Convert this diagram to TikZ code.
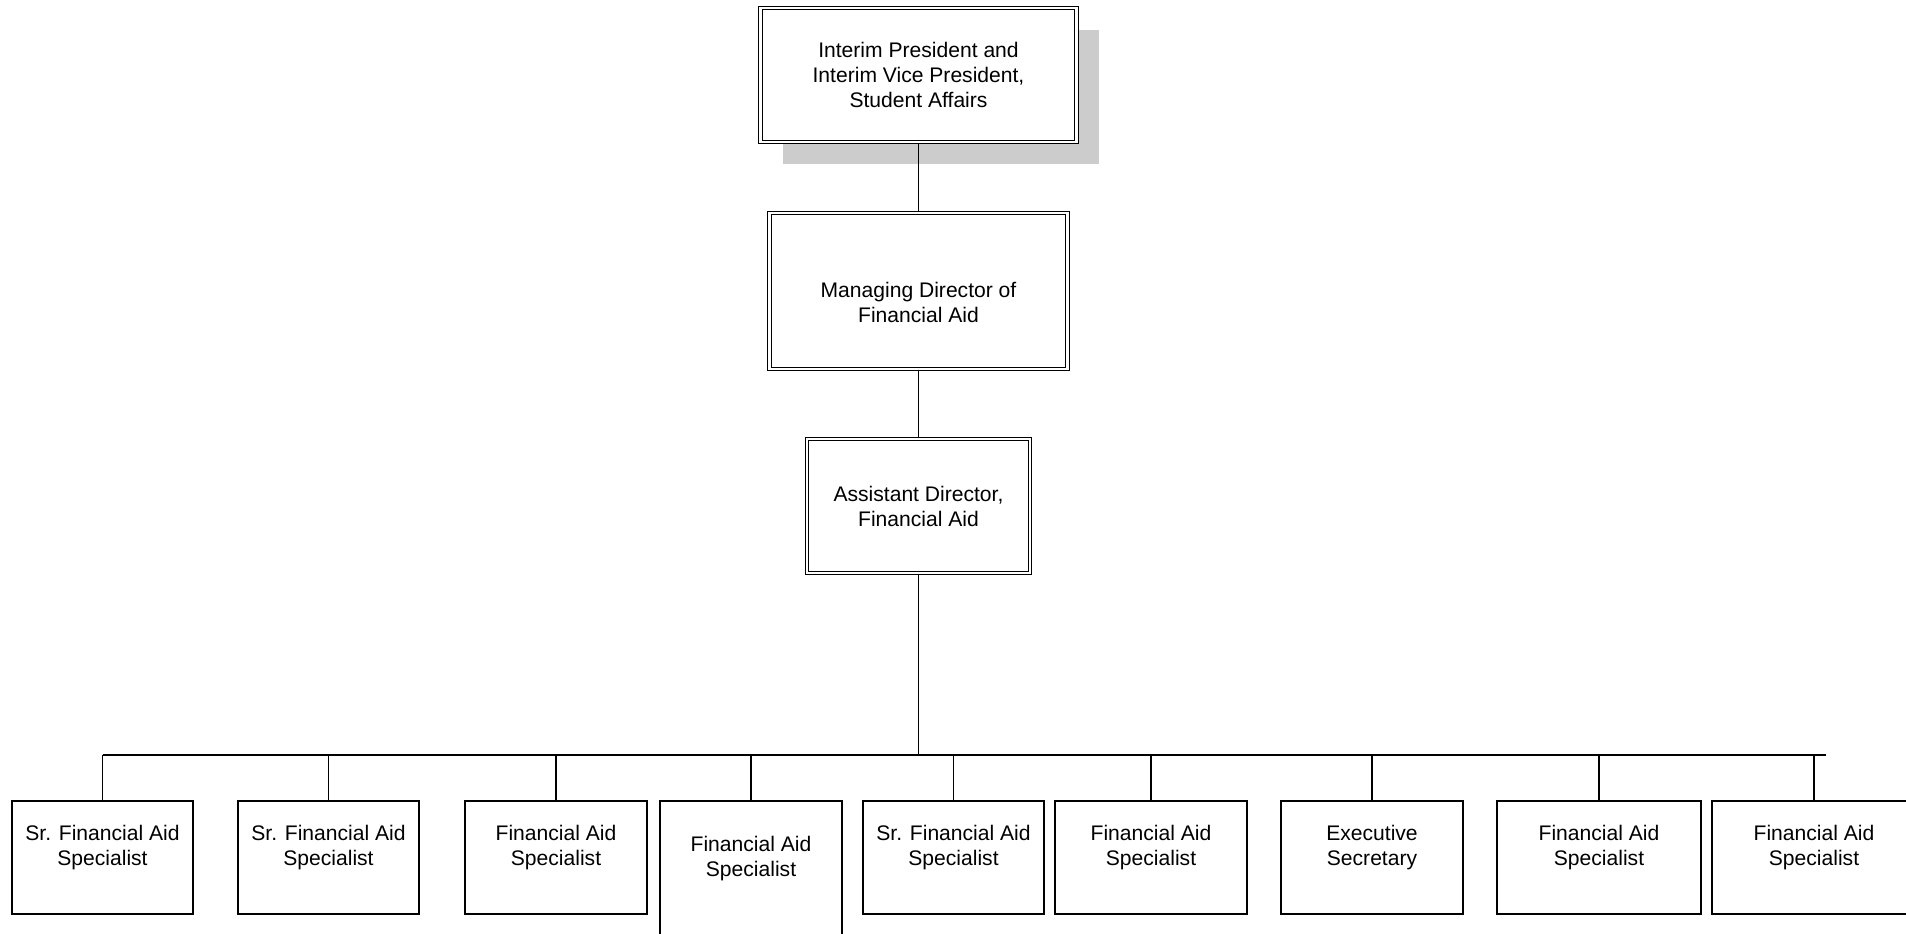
\documentclass[tikz,border=0pt]{standalone}
\usepackage{fontspec}
\setmainfont{Liberation Sans}
\usetikzlibrary{shadows}
\definecolor{shadowgray}{RGB}{204,204,204}

\tikzset{
  boxfont/.style={font=\fontsize{12}{14.2}\selectfont},
  dbox/.style={boxfont, draw, double, double distance=1.5pt, line width=0.6pt, fill=white, align=center},
  sbox/.style={boxfont, draw, line width=0.7pt, fill=white, align=center, minimum height=2.26cm, text depth=0.47cm},
  link/.style={line width=0.6pt}
}

\begin{document}
\begin{tikzpicture}
     \clip (0,0) rectangle (38.12,18.68);
     % upper chain
     \node[dbox, minimum width=6.32cm, minimum height=2.68cm,
           drop shadow={shadow xshift=0.44cm, shadow yshift=-0.44cm, fill=shadowgray, opacity=1}]
           (pres) at (18.37,17.18) {Interim President and\\Interim Vice President,\\Student Affairs};
     \node[dbox, minimum width=5.96cm, minimum height=3.12cm, text height=1.26cm] (mgr) at (18.37,12.86) {Managing Director of\\Financial Aid};
     \node[dbox, minimum width=4.46cm, minimum height=2.68cm] (asst) at (18.37,8.56) {Assistant Director,\\Financial Aid};
     \draw[link] (pres.south) -- (mgr.north);
     \draw[link] (mgr.south) -- (asst.north);
     % staff row
     \node[sbox, minimum width=3.62cm] (s1) at (2.05,1.53) {Sr. Financial Aid\\Specialist};
     \node[sbox, minimum width=3.62cm] (s2) at (6.57,1.53) {Sr. Financial Aid\\Specialist};
     \node[sbox, minimum width=3.64cm] (s3) at (11.12,1.53) {Financial Aid\\Specialist};
     \node[sbox, minimum width=3.64cm, minimum height=2.70cm] (s4) at (15.02,1.31) {Financial Aid\\Specialist};
     \node[sbox, minimum width=3.62cm] (s5) at (19.07,1.53) {Sr. Financial Aid\\Specialist};
     \node[sbox, minimum width=3.84cm] (s6) at (23.02,1.53) {Financial Aid\\Specialist};
     \node[sbox, minimum width=3.64cm] (s7) at (27.44,1.53) {Executive\\Secretary};
     \node[sbox, minimum width=4.08cm] (s8) at (31.98,1.53) {Financial Aid\\Specialist};
     \node[sbox, minimum width=4.08cm] (s9) at (36.28,1.53) {Financial Aid\\Specialist};
     % bus
     \coordinate (busL) at (2.05,3.58);
     \coordinate (busR) at (36.52,3.58);
     \draw[link] (busL) -- (busR);
     \draw[link] (asst.south) -- (asst.south |- busL);
     \foreach \n in {1,...,9}
        \draw[link] (s\n.north) -- (s\n.north |- busL);
\end{tikzpicture}
\end{document}
